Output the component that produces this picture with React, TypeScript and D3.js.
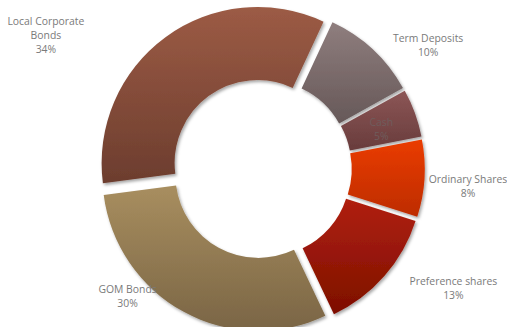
import React from "react";
import * as d3 from "d3";

const categories = ["Term Deposits", "Cash", "Ordinary Shares", "Preference shares", "GOM Bonds", "Local Corporate Bonds"];
const values = [10, 5, 8, 13, 30, 34];
const labelLines = [["Term Deposits"], ["Cash"], ["Ordinary Shares"], ["Preference shares"], ["GOM Bonds"], ["Local Corporate", "Bonds"]];
const topColors = ["#8f7e7e", "#8c5656", "#ea3c00", "#b0200f", "#a88e5f", "#9c5b45"];
const bottomColors = ["#665858", "#683c3c", "#bd2c00", "#7d0f00", "#7a6545", "#6c3d2e"];
// label placement: polar radius and angle (deg) around chart center
const labelRadius = [207, 126, 207, 226, 185, 254];
const labelAngle = [53.5, 71.6, 95, 122, 226.5, 301.8];

const W = 507, H = 327;
const cx = 261.75, cy = 168.75;
const R = 156, r0 = 83, explode = 7;

export default function App() {
  const pie = d3.pie<number>().sort(null).value((d) => d).startAngle((25 * Math.PI) / 180).endAngle((25 * Math.PI) / 180 + 2 * Math.PI);
  const arcs = pie(values);
  const arc = d3.arc<d3.PieArcDatum<number>>().innerRadius(r0).outerRadius(R);
  const total = d3.sum(values);
  const fmt = (v: number) => `${Math.round((v / total) * 100)}%`;
  return (
    <svg width={W} height={H} style={{ position: "fixed", left: 0, top: 0 }} fontFamily="'Open Sans', sans-serif">
      <defs>
        {arcs.map((a, i) => (
          <linearGradient key={i} id={`g${i}`} x1="0" y1="0" x2="0" y2="1">
            <stop offset="0" stopColor={topColors[i]} />
            <stop offset="1" stopColor={bottomColors[i]} />
          </linearGradient>
        ))}
        <filter id="sh" x="-20%" y="-20%" width="140%" height="140%">
          <feDropShadow dx="1.5" dy="2" stdDeviation="1.5" floodColor="#000" floodOpacity="0.35" />
        </filter>
      </defs>
      <rect width={W} height={H} fill="#fff" />
      <g transform={`translate(${cx},${cy})`}>
        {arcs.map((a, i) => {
          const mid = (a.startAngle + a.endAngle) / 2;
          const tx = Math.sin(mid) * explode, ty = -Math.cos(mid) * explode;
          return (
            <path key={i} d={arc(a) || ""} transform={`translate(${tx},${ty})`} fill={`url(#g${i})`} filter="url(#sh)" />
          );
        })}
        {arcs.map((a, i) => {
          const ang = (labelAngle[i] * Math.PI) / 180;
          const x = Math.sin(ang) * labelRadius[i];
          const y = -Math.cos(ang) * labelRadius[i];
          const lines = [...labelLines[i], fmt(a.data)];
          const lh = 14;
          const y0 = y - ((lines.length - 1) * lh) / 2;
          return (
            <text key={i} textAnchor="middle" fontSize={10.4} fill={i === 1 ? "#6f5c5c" : "#7a7a7a"}>
              {lines.map((l, j) => (
                <tspan key={j} x={x} y={y0 + j * lh} dy="0.35em">{l}</tspan>
              ))}
            </text>
          );
        })}
      </g>
    </svg>
  );
}
